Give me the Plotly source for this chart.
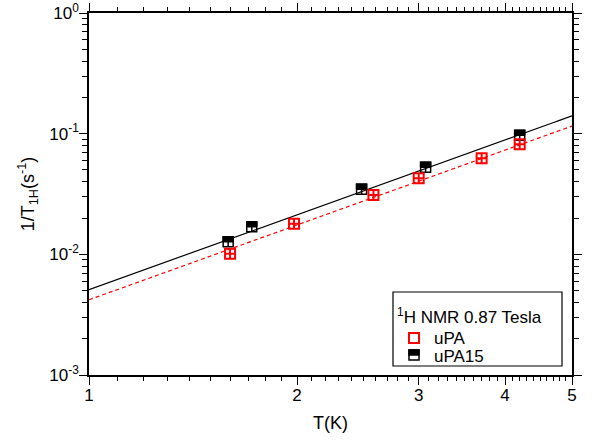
import numpy as np
import plotly.graph_objects as go

# Measured relaxation rates 1/T1H (s^-1) versus temperature T (K)
T_uPA = [1.60, 1.98, 2.58, 3.00, 3.70, 4.20]
R_uPA = [0.0101, 0.0179, 0.0310, 0.0428, 0.0626, 0.0816]

T_uPA15 = [1.59, 1.72, 2.48, 3.07, 4.20]
R_uPA15 = [0.0127, 0.0169, 0.0347, 0.0527, 0.0968]

# Power-law fits  1/T1H = A * T^n
fit_uPA = {"A": 0.0042, "n": 2.06}
fit_uPA15 = {"A": 0.0051, "n": 2.06}

x_ticks = [1, 2, 3, 4, 5]
x_minor = [round(d + k / 10, 1) for d in range(1, 5) for k in range(1, 10)]
y_ticks = [1e-3, 1e-2, 1e-1, 1]
y_ticktext = ["10<sup>-3</sup>", "10<sup>-2</sup>", "10<sup>-1</sup>", "10<sup>0</sup>"]
y_minor = [m * 10.0 ** e for e in range(-3, 0) for m in range(2, 10)]

W, H = 595, 444
L, R, TOP, B = 89, 23, 13, 69
plot_w = W - L - R
plot_h = H - TOP - B
x_range = [0, float(np.log10(5))]
y_range = [-3, 0]
px_per_decade = plot_h / (y_range[1] - y_range[0])

FONT = "Liberation Sans, Arial, sans-serif"
RED = "#ff0000"
MSIZE = 10

fig = go.Figure()

# fit lines
t_line = np.logspace(0, np.log10(5), 200)
fig.add_trace(go.Scatter(
    x=t_line, y=fit_uPA15["A"] * t_line ** fit_uPA15["n"], mode="lines",
    line=dict(color="black", width=1.2), hoverinfo="skip"))
fig.add_trace(go.Scatter(
    x=t_line, y=fit_uPA["A"] * t_line ** fit_uPA["n"], mode="lines",
    line=dict(color=RED, width=1.2, dash="4px,3px"), hoverinfo="skip"))

# uPA15: square outline with cross, upper half filled (thick one-sided bar)
half_px = MSIZE / 2 + 0.75
up = 10 ** (half_px / px_per_decade) - 1
fig.add_trace(go.Scatter(
    x=T_uPA15, y=R_uPA15, mode="markers", name="uPA15",
    marker=dict(symbol="square-cross-open", size=MSIZE, color="black",
                line=dict(color="black", width=1.5)),
    error_y=dict(type="data", symmetric=False, array=[v * up for v in R_uPA15],
                 arrayminus=[0] * len(R_uPA15), thickness=MSIZE + 1.5, width=0,
                 color="black")))

# uPA: red open squares with cross
fig.add_trace(go.Scatter(
    x=T_uPA, y=R_uPA, mode="markers", name="uPA",
    marker=dict(symbol="square-cross-open", size=MSIZE, color=RED,
                line=dict(color=RED, width=2))))

line_style = dict(showgrid=False, zeroline=False, showline=True, mirror="allticks",
                  automargin=False,
                  linecolor="black", linewidth=1.5, tickcolor="black", tickwidth=1.2)
tickfont = dict(family=FONT, size=17, color="black")

fig.update_layout(
    width=W, height=H, margin=dict(l=L, r=R, t=TOP, b=B, autoexpand=False),
    paper_bgcolor="white", plot_bgcolor="white", showlegend=False,
    xaxis=dict(type="log", range=x_range,
               tickmode="array", tickvals=x_ticks, ticktext=[str(v) for v in x_ticks],
               ticks="outside", ticklen=8, ticklabelstandoff=-4, tickfont=tickfont,
               minor=dict(tickmode="array", tickvals=x_minor, ticks="outside",
                          ticklen=4, tickcolor="black", tickwidth=1.2),
               title=dict(text="T(K)", font=dict(family=FONT, size=18, color="black"),
                          standoff=12),
               **line_style),
    yaxis=dict(type="log", range=y_range,
               tickmode="array", tickvals=y_ticks, ticktext=y_ticktext,
               ticks="outside", ticklen=8, ticklabelstandoff=-3, tickfont=tickfont,
               minor=dict(tickmode="array", tickvals=y_minor, ticks="outside",
                          ticklen=5, tickcolor="black", tickwidth=1.2),
               title=dict(text="1/T<sub>1H</sub>(s<sup>-1</sup>)",
                          font=dict(family=FONT, size=18, color="black"), standoff=10),
               **line_style),
)

# Legend box drawn in paper coordinates
def px(x):
    return (x - L) / plot_w
def py(y):
    return (H - B - y) / plot_h

legend_font = dict(family=FONT, size=17, color="black")
fig.add_shape(type="rect", xref="paper", yref="paper",
              x0=px(393), x1=px(562), y0=py(366), y1=py(292),
              line=dict(color="black", width=1.2), fillcolor="white", layer="above")
fig.add_annotation(xref="paper", yref="paper", x=px(395), y=py(316),
                   xanchor="left", yanchor="middle", showarrow=False,
                   text="<sup>1</sup>H NMR 0.87 Tesla", font=legend_font)
for label, ypix in [("uPA", 338), ("uPA15", 356)]:
    fig.add_annotation(xref="paper", yref="paper", x=px(432), y=py(ypix),
                       xanchor="left", yanchor="middle", showarrow=False, text=label,
                       font=legend_font)

# legend keys
key_x = px(414)
fig.add_shape(type="rect", xref="paper", yref="paper", xsizemode="pixel",
              ysizemode="pixel", xanchor=key_x, yanchor=py(338),
              x0=-5, x1=5, y0=-5, y1=5, line=dict(color=RED, width=2),
              fillcolor="white", layer="above")
fig.add_shape(type="rect", xref="paper", yref="paper", xsizemode="pixel",
              ysizemode="pixel", xanchor=key_x, yanchor=py(355),
              x0=-5, x1=5, y0=-5, y1=5, line=dict(color="black", width=1.5),
              fillcolor="white", layer="above")
fig.add_shape(type="rect", xref="paper", yref="paper", xsizemode="pixel",
              ysizemode="pixel", xanchor=key_x, yanchor=py(355),
              x0=-5, x1=5, y0=0, y1=5, line=dict(color="black", width=1.5),
              fillcolor="black", layer="above")

fig.write_html("out.html")
